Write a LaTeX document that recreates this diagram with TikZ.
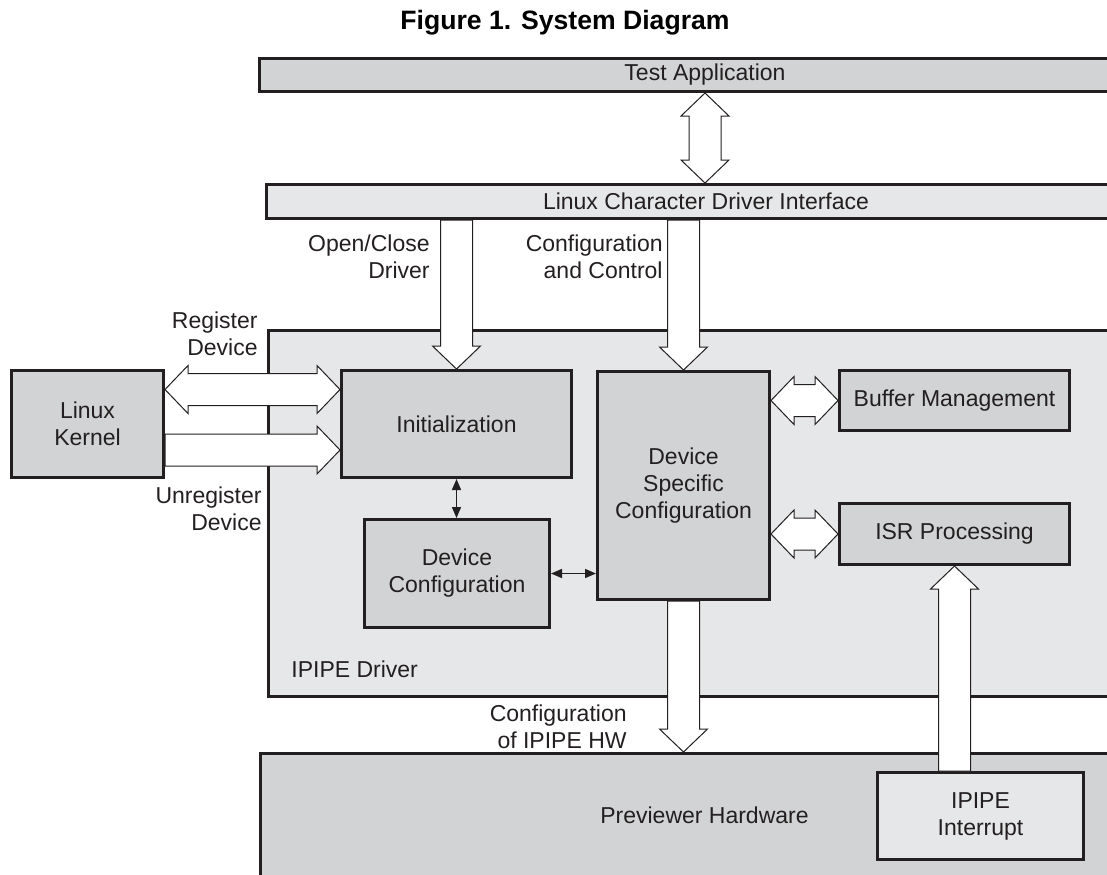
\documentclass[tikz,border=0pt]{standalone}
\usepackage{fontspec}
\setmainfont{Liberation Sans}
\usetikzlibrary{arrows.meta, calc}
\definecolor{ink}{HTML}{231F20}
\definecolor{boxdark}{HTML}{D1D3D4}
\definecolor{boxlight}{HTML}{E6E7E8}
\newcommand{\diagfont}{\fontsize{11.5}{13.5}\selectfont}
\tikzset{
  block/.style     = {rectangle, draw=ink, line width=1.5pt, fill=boxdark,
                      align=center, font=\diagfont, text=ink, inner sep=0pt},
  lightblock/.style= {block, fill=boxlight},
  caption/.style   = {font=\diagfont, text=ink, inner sep=0pt},
  figtitle/.style  = {font=\bfseries\fontsize{13.3}{16}\selectfont, inner sep=0pt},
  thinlink/.style  = {{Triangle[length=5.5pt, width=4.5pt]}-{Triangle[length=5.5pt, width=4.5pt]},
                      line width=0.75pt, draw=ink, fill=ink},
  % hollow block arrow, head at the target
  fatarrow/.style  = {draw=ink, line width=0.5pt, fill=white, line join=miter, to path={
      ($(\tikztotarget)!11.5pt!(\tikztostart)$) coordinate (fa-b)
      ($(\tikztostart)!8pt!90:(\tikztotarget)$) -- ($(fa-b)!8pt!90:(\tikztotarget)$)
      -- ($(fa-b)!12pt!90:(\tikztotarget)$) -- (\tikztotarget)
      -- ($(fa-b)!12pt!-90:(\tikztotarget)$) -- ($(fa-b)!8pt!-90:(\tikztotarget)$)
      -- ($(\tikztostart)!8pt!-90:(\tikztotarget)$) -- cycle}},
  % hollow block arrow, heads at both ends
  dblfatarrow/.style = {draw=ink, line width=0.5pt, fill=white, line join=miter, to path={
      ($(\tikztostart)!11.5pt!(\tikztotarget)$) coordinate (fa-a)
      ($(\tikztotarget)!11.5pt!(\tikztostart)$) coordinate (fa-b)
      (\tikztostart) -- ($(fa-a)!12pt!90:(\tikztotarget)$) -- ($(fa-a)!8pt!90:(\tikztotarget)$)
      -- ($(fa-b)!8pt!90:(\tikztotarget)$) -- ($(fa-b)!12pt!90:(\tikztotarget)$) -- (\tikztotarget)
      -- ($(fa-b)!12pt!-90:(\tikztotarget)$) -- ($(fa-b)!8pt!-90:(\tikztotarget)$)
      -- ($(fa-a)!8pt!-90:(\tikztotarget)$) -- ($(fa-a)!12pt!-90:(\tikztotarget)$) -- cycle}},
}

\begin{document}
\begin{tikzpicture}[x=0.5pt, y=-0.5pt]
  \useasboundingbox (0,0) rectangle (1107,874);
  \clip (0,0) rectangle (1107,874);

  \node[figtitle] (title) at (565,23) {Figure 1. System Diagram};

  % containers
  \node[lightblock, minimum width=440.75pt, minimum height=183pt] (driver) at (709.25,513.5) {};
  \node[block, minimum width=444pt, minimum height=62pt] (previewer) at (704.5,815.5) {Previewer Hardware};
  \node[caption, anchor=west] (driverlbl) at (291,669) {IPIPE Driver};

  % user space side
  \node[block, minimum width=445.5pt, minimum height=16.5pt] (testapp) at (705,75) {Test Application};
  \node[lightblock, minimum width=439.5pt, minimum height=17pt] (chardrv) at (706,201.5) {Linux Character Driver Interface};

  % driver blocks
  \node[block, minimum width=76pt, minimum height=53.5pt] (kernel) at (87.5,424) {Linux\\Kernel};
  \node[block, minimum width=115pt, minimum height=53.5pt] (init) at (456.5,424) {Initialization};
  \node[block, minimum width=92.5pt, minimum height=54pt] (devcfg) at (457,573.5) {Device\\Configuration};
  \node[block, minimum width=86pt, minimum height=114pt] (dsc) at (683.5,485.5) {Device\\Specific\\Configuration};
  \node[block, minimum width=115pt, minimum height=30pt] (buffer) at (954.5,400.5) {Buffer Management};
  \node[block, minimum width=115pt, minimum height=30.5pt] (isr) at (954.5,534) {ISR Processing};
  \node[lightblock, minimum width=103pt, minimum height=43.5pt] (irq) at (980.5,816) {IPIPE\\Interrupt};

  \coordinate (reg) at (0,389.5);
  \coordinate (unreg) at (0,450);

  % block arrows
  \draw[dblfatarrow] (testapp.south) to (testapp.south |- chardrv.north);
  \draw[fatarrow] (init.north |- chardrv.south) to (init.north);
  \draw[fatarrow] (dsc.north |- chardrv.south) to (dsc.north);
  \draw[dblfatarrow] (kernel.east |- reg) to (init.west |- reg);
  \draw[fatarrow] (kernel.east |- unreg) to (init.west |- unreg);
  \draw[dblfatarrow] (dsc.east |- buffer.west) to (buffer.west);
  \draw[dblfatarrow] (dsc.east |- isr.west) to (isr.west);
  \draw[fatarrow] (dsc.south) to (dsc.south |- previewer.north);
  \draw[fatarrow] (isr.south |- irq.north) to (isr.south);

  % thin links
  \draw[thinlink] (init.south) -- (init.south |- devcfg.north);
  \draw[thinlink] (devcfg.east) -- (dsc.west |- devcfg.east);

  % arrow captions
  \node[caption, anchor=east, align=right] (regl) at (258,333.5) {Register\\Device};
  \node[caption, anchor=east, align=right] (unregl) at (262,509) {Unregister\\Device};
  \node[caption, anchor=east, align=right] (openl) at (430,256.5) {Open/Close\\Driver};
  \node[caption, anchor=east, align=right] (ctrll) at (663,256.5) {Configuration\\and Control};
  \node[caption, anchor=east, align=right] (hwl) at (627,727) {Configuration\\of IPIPE HW};
\end{tikzpicture}
\end{document}
